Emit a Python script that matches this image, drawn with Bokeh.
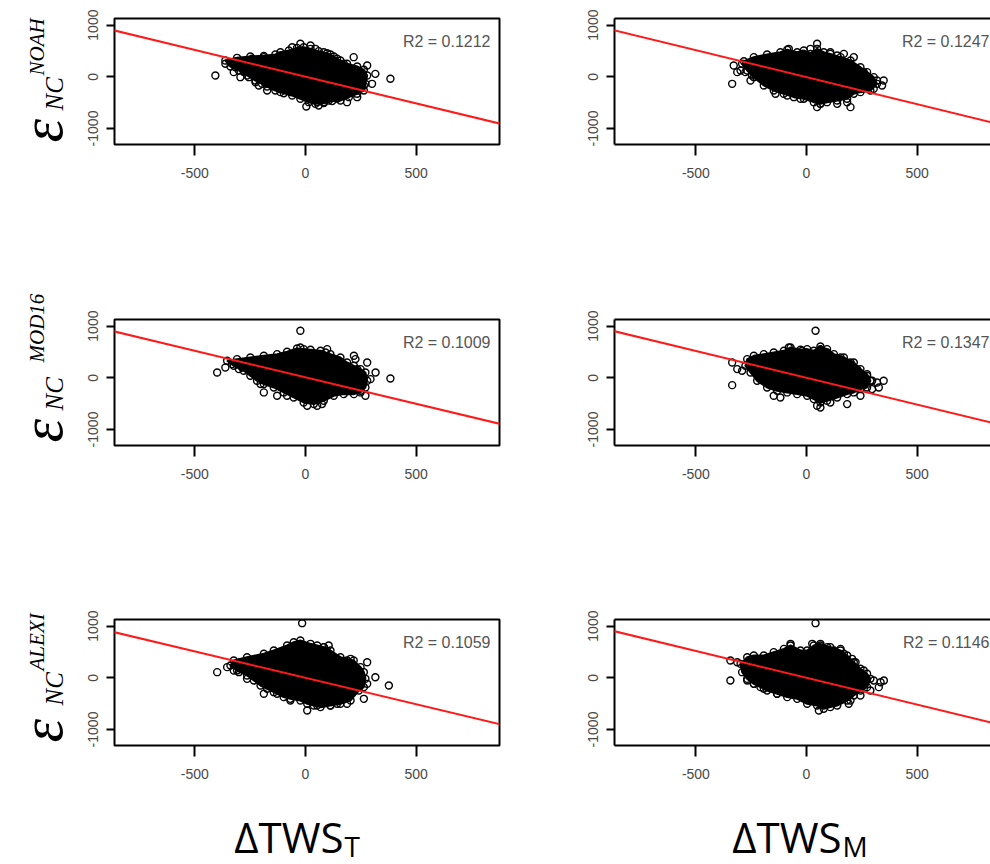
import math
from bokeh.plotting import figure
from bokeh.layouts import row, column
from bokeh.models import Range1d, FixedTicker, LinearAxis, Label, Slope
from bokeh.core.properties import value
from bokeh.embed import file_html
from bokeh.resources import INLINE

# ---------------- data ----------------
MODELS = ["NOAH", "MOD16", "ALEXI"]
R2_T = ["0.1212", "0.1009", "0.1059"]
R2_M = ["0.1247", "0.1347", "0.1146"]
SLOPE_T = [-1.034, -1.026, -1.022]
ICPT_T = [3, 10, -1]
SLOPE_M = [-1.046, -1.038, -1.038]
ICPT_M = [-8, 0, 0]
X_TICKS = [-500, 0, 500]
Y_TICKS = [-1000, 0, 1000]
X_LABELS = [("ΔTWS", "T"), ("ΔTWS", "M")]

# saturated (overlapping) core of each cloud: outline of the solid black region
noah_t_core_x = [-362, -309, -249, -188, -136, -113, -75, -38, -8, 23, 60, 98, 128, 158, 188, 234, 264, 279, 271, 264,
                 234, 196, 158, 121, 83, 45, 15, -23, -60, -98, -136, -173, -196, -226, -264, -301, -339]
noah_t_core_y = [315, 367, 393, 405, 431, 476, 509, 560, 573, 541, 496, 457, 393, 315, 251, 199, 135, 25, -136, -265,
                 -329, -394, -458, -471, -510, -523, -491, -426, -362, -317, -265, -188, -136, -72, 25, 122, 199]
noah_t_x = [-407, 384, -23, 4, 60, 83, 188, 218, 173, 279, 316, 301, 234, 264, -362, -324, -317, -279, -294, -256,
            -226, -211, -173, -113, -68, -173, -241, -188, -113, -60, 23, 45, 83, 113, 143, 53, 106, 143]
noah_t_y = [25, -39, 638, -574, -555, -491, -491, 380, 251, 219, 57, -136, -394, -168, 251, 90, 186, 90, -7, -7,
            -104, -168, -265, -297, -297, -104, 348, 380, 412, 573, 605, 541, 476, 431, 348, -491, -458, -426]

noah_m_core_x = [-283, -238, -178, -118, -87, -42, -12, 18, 48, 78, 108, 154, 199, 244, 274, 304, 319, 289, 244, 214,
                 184, 139, 93, 63, 33, -12, -57, -103, -148, -193, -238, -268, -291]
noah_m_core_y = [302, 380, 431, 476, 522, 476, 509, 444, 541, 476, 444, 380, 315, 186, 90, -7, -136, -265, -297, -329,
                 -426, -458, -491, -523, -491, -426, -394, -329, -265, -168, -7, 122, 251]
noah_m_x = [-336, -329, -313, -298, -276, -253, -246, -140, -87, -27, 48, 63, -80, -19, 18, 108, 139, 169, 214, 259,
            274, 319, 349, 342, 304, 184, 199, 139, 48]
noah_m_y = [-136, 218, 90, 122, 90, -72, 25, -329, -362, -426, -587, -523, 541, 444, 541, 476, 412, 444, 380, 90,
            -7, -72, -72, -168, -233, -491, -587, -523, 638]

mod16_t_core_x = [-354, -309, -249, -188, -128, -83, -38, -8, 23, 68, 113, 158, 188, 219, 249, 271, 279, 271, 249, 219,
                  173, 128, 83, 38, -8, -53, -98, -143, -188, -219, -249, -279, -324]
mod16_t_core_y = [329, 361, 393, 426, 458, 503, 567, 555, 542, 522, 458, 393, 297, 232, 168, 103, -58, -187, -283, -316,
                  -316, -348, -445, -509, -477, -380, -283, -187, -122, -58, 39, 136, 232]
mod16_t_x = [-23, -399, 384, -362, -331, -301, -286, -203, -188, -128, -83, 8, 53, 75, 98, 91, -23, 219, 226, 279,
             317, 294, 271, 249, 234]
mod16_t_y = [909, 103, -13, 200, 264, 168, 200, -122, -283, -348, -348, -541, -541, -509, 554, 490, 587, 426, 361, 297,
             103, -26, -348, -251, 168]

mod16_m_core_x = [-268, -238, -193, -148, -102, -72, -27, 3, 33, 63, 93, 124, 169, 214, 244, 274, 289, 274, 244, 214,
                  184, 139, 93, 63, 33, 3, -42, -87, -133, -178, -223, -253, -276]
mod16_m_core_y = [361, 426, 458, 490, 522, 587, 542, 555, 522, 606, 555, 458, 393, 297, 168, 71, -58, -187, -219, -283,
                  -316, -380, -445, -477, -412, -348, -316, -283, -251, -187, -58, 103, 232]
mod16_m_x = [41, -336, -336, -313, -291, -148, -118, 48, 63, 108, 184, -80, -19, 63, 93, 154, 199, 229, 274, 297,
             319, 349, 327, 297, 244]
mod16_m_y = [909, -142, 297, 168, 135, -348, -380, -541, -574, -477, -509, 587, 522, 555, 490, 393, 297, 168, 39, -58,
             -90, -58, -187, -219, -348]

alexi_t_core_x = [-339, -324, -264, -188, -143, -83, -53, -23, 23, 53, 83, 113, 158, 218, 249, 264, 271, 264, 241, 204,
                  158, 113, 68, 38, 8, -23, -68, -98, -143, -173, -203, -233, -264, -309]
alexi_t_core_y = [238, 335, 399, 464, 528, 625, 689, 721, 657, 625, 593, 528, 399, 335, 206, 109, -20, -181, -246, -439,
                  -503, -536, -568, -536, -503, -439, -407, -374, -278, -213, -149, -52, 45, 141]
alexi_t_x = [-15, -399, 377, -354, -324, -294, -301, -264, -188, -128, -68, 8, 53, 113, 83, 105, 75, 188, 204, 279,
             316, 279, 264, 143, 188]
alexi_t_y = [1057, 109, -149, 206, 141, 302, 109, -20, -310, -310, -439, -632, -536, -536, 593, 625, 528, 335, 367, 302,
             12, -117, -407, -503, -503]

alexi_m_core_x = [-298, -268, -238, -193, -148, -102, -72, -27, 3, 33, 63, 108, 154, 184, 214, 244, 274, 289, 274, 244,
                  214, 184, 139, 108, 78, 48, 3, -42, -87, -133, -178, -208, -238, -268, -291]
alexi_m_core_y = [270, 399, 431, 431, 496, 560, 625, 528, 528, 625, 657, 593, 528, 431, 302, 174, 77, -20, -181, -246,
                  -342, -439, -536, -568, -600, -536, -503, -407, -374, -310, -246, -181, -117, -20, 109]
alexi_m_x = [41, -344, -344, -313, -268, -238, -193, -133, -72, 26, 63, 94, 124, 154, 169, 206, 222, 259, 304, 335,
             350, 327, 289, 244, 199, 191, 56]
alexi_m_y = [1057, -52, 335, 302, -52, -117, -213, -310, 657, 657, 625, 593, 528, 560, 464, 367, 302, 141, -52, -85,
             -52, -181, -246, -342, -439, -503, -632]

CLOUDS_T = [(noah_t_core_x, noah_t_core_y, noah_t_x, noah_t_y),
            (mod16_t_core_x, mod16_t_core_y, mod16_t_x, mod16_t_y),
            (alexi_t_core_x, alexi_t_core_y, alexi_t_x, alexi_t_y)]
CLOUDS_M = [(noah_m_core_x, noah_m_core_y, noah_m_x, noah_m_y),
            (mod16_m_core_x, mod16_m_core_y, mod16_m_x, mod16_m_y),
            (alexi_m_core_x, alexi_m_core_y, alexi_m_x, alexi_m_y)]

# ---------------- layout / style ----------------
XR_T = (-863, 877)
XR_M = (-868, 832)
YR = (-1310, 1128)
FRAME_W_T, FRAME_W_M, FRAME_H = 385, 376, 126
PX_X = FRAME_W_T / (XR_T[1] - XR_T[0])
PX_Y = FRAME_H / (YR[1] - YR[0])
TICK_FONT = "Liberation Sans"
TICK_COLOR = "#484848"
ROW_BORDERS = [(18, 156), (19, 155), (19, 43)]
LAB_W = 80
LEFT_B_T = 34
TOTAL_W, TOTAL_H = 990, 864
GRID_H = sum(t + FRAME_H + b for t, b in ROW_BORDERS)


def make_panel(cloud, slope, icpt, r2, right_col, r):
    core_x, core_y, pts_x, pts_y = cloud
    top, bottom = ROW_BORDERS[r]
    xr = XR_M if right_col else XR_T
    fw = FRAME_W_M if right_col else FRAME_W_T
    left_b, right_b = (46, 0) if right_col else (LEFT_B_T, 69)
    p = figure(width=left_b + fw + right_b, height=top + FRAME_H + bottom,
               x_range=Range1d(*xr), y_range=Range1d(*YR),
               output_backend="svg", toolbar_location=None, tools="",
               min_border_left=left_b, min_border_right=right_b,
               min_border_top=top, min_border_bottom=bottom)
    p.grid.visible = False
    p.background_fill_color = "white"
    p.border_fill_color = "white"

    p.xaxis.ticker = FixedTicker(ticks=X_TICKS)
    p.yaxis.ticker = FixedTicker(ticks=Y_TICKS)
    p.xaxis.major_label_overrides = {t: str(t) for t in X_TICKS}
    p.yaxis.major_label_overrides = {t: str(t) for t in Y_TICKS}
    p.axis.minor_tick_line_color = None
    p.axis.major_tick_in = 0
    p.xaxis.major_tick_out = 11
    p.yaxis.major_tick_out = 8
    p.axis.major_tick_line_width = 2
    p.axis.major_tick_line_color = "black"
    p.axis.major_label_text_font = TICK_FONT
    p.axis.major_label_text_font_size = "14px"
    p.axis.major_label_text_color = TICK_COLOR
    p.xaxis.major_label_standoff = 12
    p.yaxis.major_label_standoff = 8
    p.yaxis.major_label_orientation = "vertical"

    if right_col:
        p.outline_line_color = None
        p.axis.axis_line_color = "black"
        p.axis.axis_line_width = 2
        top_ax = LinearAxis(ticker=FixedTicker(ticks=[]), axis_line_color="black", axis_line_width=2,
                            major_tick_line_color=None, minor_tick_line_color=None,
                            major_label_text_font_size="0px", major_label_standoff=0)
        p.add_layout(top_ax, "above")
    else:
        p.outline_line_color = "black"
        p.outline_line_width = 2
        p.axis.axis_line_color = None

    p.patch(core_x, core_y, fill_color="black", line_color="black", line_width=2)
    p.scatter(core_x, core_y, marker="circle", size=7, fill_color=None, line_color="black", line_width=1.4)
    p.scatter(pts_x, pts_y, marker="circle", size=7, fill_color=None,
              line_color="black", line_width=1.4)
    p.add_layout(Slope(gradient=slope, y_intercept=icpt, line_color="#ff1a1a", line_width=2))

    off = 1 if right_col else 9
    p.add_layout(Label(x=xr[1] - off / PX_X, y=YR[1] - 23 / PX_Y, text="R2 = " + r2,
                       text_align="right", text_baseline="middle",
                       text_font=TICK_FONT, text_font_size="16px", text_color="#555555"))
    return p


rows = []
for r in range(3):
    pl = make_panel(CLOUDS_T[r], SLOPE_T[r], ICPT_T[r], R2_T[r], False, r)
    pr = make_panel(CLOUDS_M[r], SLOPE_M[r], ICPT_M[r], R2_M[r], True, r)
    rows.append(row(pl, pr, spacing=0))
grid = column(*rows, spacing=0)


def blank(w, h, xr, yr):
    f = figure(width=w, height=h, x_range=Range1d(*xr), y_range=Range1d(*yr),
               output_backend="svg", toolbar_location=None, tools="",
               x_axis_location=None, y_axis_location=None, min_border=0)
    f.grid.visible = False
    f.outline_line_color = None
    return f


# left labels: epsilon_NC^MODEL, rotated (reading bottom to top); y given as -(pixels from top)
lab = blank(LAB_W, GRID_H, (0, LAB_W), (-GRID_H, 0))
EPS_Y = [-142, -442, -742]
NC_Y = [-110, -410, -705]
SUP_Y = [-75, -362, -670]
SERIF = "Liberation Serif"
lab.text(x=[41] * 3, y=EPS_Y, text=["ε"] * 3, angle=math.pi / 2,
         text_font=value(SERIF), text_font_style="italic", text_font_size="60px",
         text_align="left", text_baseline="alphabetic", text_color="black")
lab.text(x=[54] * 3, y=NC_Y, text=["NC"] * 3, angle=math.pi / 2,
         text_font=value(SERIF), text_font_style="italic", text_font_size="25px",
         text_align="left", text_baseline="alphabetic", text_color="black")
lab.text(x=[36] * 3, y=SUP_Y, text=MODELS, angle=math.pi / 2,
         text_font=value(SERIF), text_font_style="italic", text_font_size="21px",
         text_align="left", text_baseline="alphabetic", text_color="black")

# bottom labels: ΔTWS_T and ΔTWS_M
BOT_H = TOTAL_H - GRID_H
bot = blank(TOTAL_W, BOT_H, (0, TOTAL_W), (-TOTAL_H, -GRID_H))
SPLIT_X = [343, 841]
bot.text(x=SPLIT_X, y=[-836, -836], text=[a for a, b in X_LABELS],
         text_font=value("Open Sans"), text_font_size="42px",
         text_align="right", text_baseline="alphabetic", text_color="black")
bot.text(x=[s + 1 for s in SPLIT_X], y=[-845, -845], text=[b for a, b in X_LABELS],
         text_font=value("Open Sans"), text_font_size="28px",
         text_align="left", text_baseline="alphabetic", text_color="black")

layout = column(row(lab, grid, spacing=0), bot, spacing=0)

open("out.html", "w").write(file_html(layout, INLINE))
